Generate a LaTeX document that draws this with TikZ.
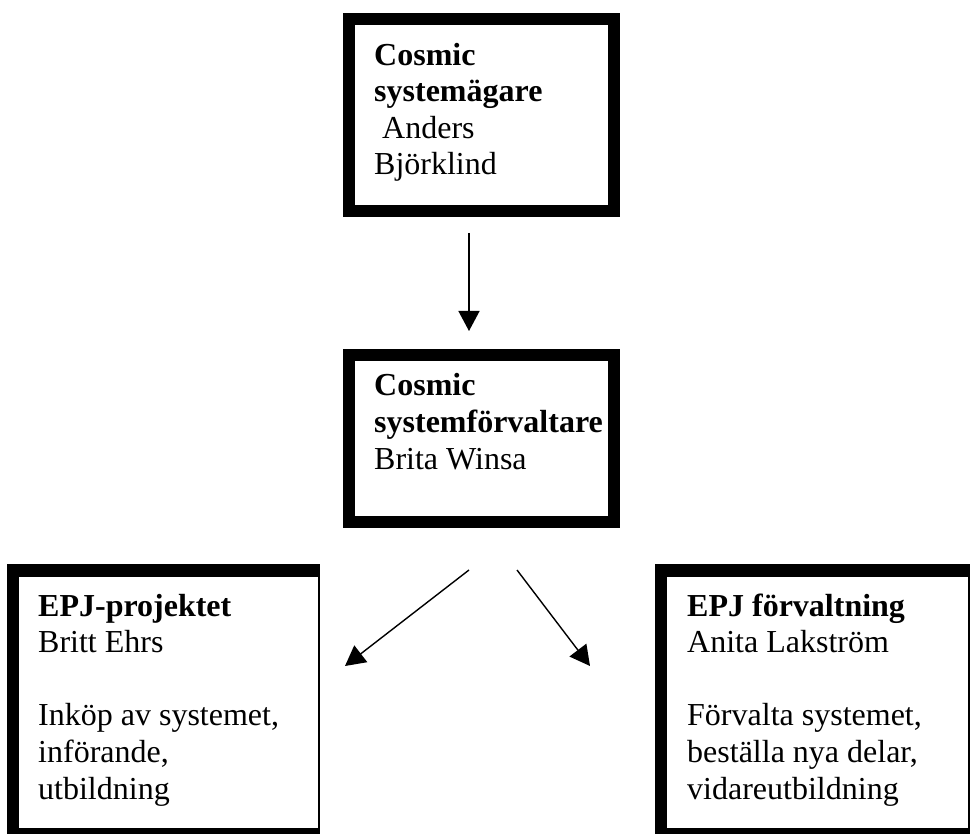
\documentclass[tikz,border=0pt]{standalone}
\usepackage{fontspec}
\setmainfont{Liberation Serif}
\usetikzlibrary{arrows.meta}
\begin{document}
\begin{tikzpicture}[x=1pt,y=-1pt,
  boxtxt/.style={anchor=base west, align=left, inner sep=0pt, font=\fontsize{32}{36.6}\selectfont},
  thickbox/.style={draw=black, line width=12.5pt, inner sep=0pt, fill=white},
  arr/.style={-{Triangle[width=21pt,length=20pt]}, line width=1.4pt}]
\useasboundingbox (0,0) rectangle (970,834);
% top box
\node[thickbox, minimum width=265pt, minimum height=192pt] (owner) at (481.5,115) {};
% middle box
\node[thickbox, minimum width=265pt, minimum height=167pt] (admin) at (481.5,438.5) {};
% bottom left box (clipped on right and bottom)
\fill (7,564) rectangle (320,834);
\node[fill=white, inner sep=0pt, minimum width=299pt, minimum height=251pt] (proj) at (168.5,702.5) {};
% bottom right box
\fill (655,564) rectangle (970,834);
\node[fill=white, inner sep=0pt, minimum width=301pt, minimum height=251pt] (forv) at (817.5,702.5) {};
% texts (anchored at the baseline of the last line)
\node[boxtxt] (t1) at (374,175) {\textbf{Cosmic}\\\textbf{systemägare}\\\hspace*{8pt}Anders\\Björklind};
\node[boxtxt] (t2) at (374,469) {\textbf{Cosmic}\\\textbf{systemförvaltare}\\Brita Winsa};
\node[boxtxt] (t3) at (38,799) {\textbf{EPJ-projektet}\\Britt Ehrs\\[36.6pt]Inköp av systemet,\\införande,\\utbildning};
\node[boxtxt] (t4) at (687,799) {\textbf{EPJ förvaltning}\\Anita Lakström\\[36.6pt]Förvalta systemet,\\beställa nya delar,\\vidareutbildning};
% arrows
\coordinate (a1s) at (469,233);
\coordinate (a1e) at (469,331);
\coordinate (a2s) at (469,570);
\coordinate (a2e) at (345,666);
\coordinate (a3s) at (517,570);
\coordinate (a3e) at (590,666);
\draw[arr] (a1s) -- (a1e);
\draw[arr] (a2s) -- (a2e);
\draw[arr] (a3s) -- (a3e);
\end{tikzpicture}
\end{document}
